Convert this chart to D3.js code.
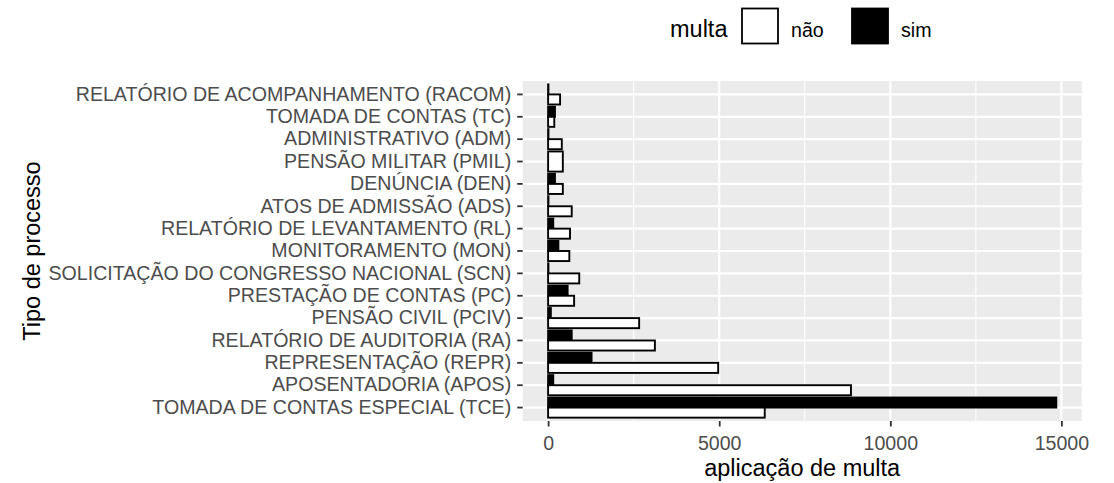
<!DOCTYPE html>
<html>
<head>
<meta charset="utf-8">
<script src="https://cdn.jsdelivr.net/npm/d3@7"></script>
<style>
  html, body { margin: 0; padding: 0; background: #fff; }
  svg { display: block; font-family: "Liberation Sans", Arial, sans-serif; }
</style>
</head>
<body>
<svg id="chart" width="1114" height="483"></svg>
<script>
// Categories, top to bottom
const categories = [
  "RELATÓRIO DE ACOMPANHAMENTO (RACOM)",
  "TOMADA DE CONTAS (TC)",
  "ADMINISTRATIVO (ADM)",
  "PENSÃO MILITAR (PMIL)",
  "DENÚNCIA (DEN)",
  "ATOS DE ADMISSÃO (ADS)",
  "RELATÓRIO DE LEVANTAMENTO (RL)",
  "MONITORAMENTO (MON)",
  "SOLICITAÇÃO DO CONGRESSO NACIONAL (SCN)",
  "PRESTAÇÃO DE CONTAS (PC)",
  "PENSÃO CIVIL (PCIV)",
  "RELATÓRIO DE AUDITORIA (RA)",
  "REPRESENTAÇÃO (REPR)",
  "APOSENTADORIA (APOS)",
  "TOMADA DE CONTAS ESPECIAL (TCE)"
];
// multa = "não"
const naoValues = [350, 180, 400, 430, 430, 690, 640, 620, 910, 760, 2660, 3120, 4970, 8850, 6330];
// multa = "sim" (null = no bar)
const simValues = [10, 200, 10, null, 200, 10, 150, 300, 10, 570, 80, 690, 1270, 150, 14850];
const seriesNames = ["não", "sim"];
const seriesFill = {"não": "#FFFFFF", "sim": "#000000"};
const xTicks = [0, 5000, 10000, 15000];
const xMinor = [2500, 7500, 12500];

const svg = d3.select("#chart");
const panel = {left: 522.7, right: 1081.7, top: 81, bottom: 421};

const maxVal = d3.max([...naoValues, ...simValues.filter(v => v != null)]);
const x = d3.scaleLinear()
  .domain([-0.05 * maxVal, 1.05 * maxVal])
  .range([panel.left, panel.right]);

const y = d3.scaleBand()
  .domain(categories)
  .range([panel.top, panel.bottom])
  .paddingInner(0)
  .paddingOuter(0.1);
const step = y.step();

// panel background
svg.append("rect")
  .attr("x", panel.left).attr("y", panel.top)
  .attr("width", panel.right - panel.left).attr("height", panel.bottom - panel.top)
  .attr("fill", "#EBEBEB");

// minor grid
svg.append("g").selectAll("line").data(xMinor).join("line")
  .attr("x1", d => x(d)).attr("x2", d => x(d))
  .attr("y1", panel.top).attr("y2", panel.bottom)
  .attr("stroke", "#fff").attr("stroke-width", 1.1);

// major grid
svg.append("g").selectAll("line").data(xTicks).join("line")
  .attr("x1", d => x(d)).attr("x2", d => x(d))
  .attr("y1", panel.top).attr("y2", panel.bottom)
  .attr("stroke", "#fff").attr("stroke-width", 2.2);
svg.append("g").selectAll("line").data(categories).join("line")
  .attr("x1", panel.left).attr("x2", panel.right)
  .attr("y1", d => y(d) + y.bandwidth() / 2).attr("y2", d => y(d) + y.bandwidth() / 2)
  .attr("stroke", "#fff").attr("stroke-width", 2.2);

// bars
const bars = [];
categories.forEach((c, i) => {
  const hasSim = simValues[i] != null;
  const center = y(c) + y.bandwidth() / 2;
  const groupW = 0.9 * step;
  if (hasSim) {
    const sub = d3.scaleBand().domain(["sim", "não"]).range([center - groupW / 2, center + groupW / 2]);
    bars.push({cat: c, s: "sim", v: simValues[i], y0: sub("sim"), h: sub.bandwidth()});
    bars.push({cat: c, s: "não", v: naoValues[i], y0: sub("não"), h: sub.bandwidth()});
  } else {
    bars.push({cat: c, s: "não", v: naoValues[i], y0: center - groupW / 2, h: groupW});
  }
});
svg.append("g").selectAll("rect").data(bars).join("rect")
  .attr("x", d => x(0))
  .attr("y", d => d.y0)
  .attr("width", d => x(d.v) - x(0))
  .attr("height", d => d.h)
  .attr("fill", d => seriesFill[d.s])
  .attr("stroke", "#000")
  .attr("stroke-width", 1.9);

// x axis
const xAxis = svg.append("g")
  .attr("transform", `translate(0,${panel.bottom})`)
  .call(d3.axisBottom(x).tickValues(xTicks).tickFormat(d3.format("d")).tickSize(5.5).tickPadding(10));
xAxis.select(".domain").remove();
xAxis.selectAll(".tick line").attr("stroke", "#333").attr("stroke-width", 1.8);
xAxis.selectAll(".tick text").attr("fill", "#4D4D4D").style("font-size", "19.6px");

// y axis
const yAxis = svg.append("g")
  .attr("transform", `translate(${panel.left},0)`)
  .call(d3.axisLeft(y).tickSize(5.5).tickPadding(6));
yAxis.select(".domain").remove();
yAxis.selectAll(".tick line").attr("stroke", "#333").attr("stroke-width", 1.8);
yAxis.selectAll(".tick text").attr("fill", "#4D4D4D").style("font-size", "19.6px");

// axis titles
svg.append("text")
  .attr("x", (panel.left + panel.right) / 2).attr("y", 476)
  .attr("text-anchor", "middle").attr("fill", "#000")
  .style("font-size", "23.5px")
  .text("aplicação de multa");
svg.append("text")
  .attr("transform", `translate(40,${(panel.top + panel.bottom) / 2}) rotate(-90)`)
  .attr("text-anchor", "middle").attr("fill", "#000")
  .style("font-size", "23.5px")
  .text("Tipo de processo");

// legend
const lg = svg.append("g");
lg.append("text").attr("x", 670).attr("y", 37).attr("fill", "#000")
  .style("font-size", "23.5px").text("multa");
const keyX = [742, 852];
seriesNames.forEach((s, i) => {
  lg.append("rect").attr("x", keyX[i]).attr("y", 8.5).attr("width", 36).attr("height", 35)
    .attr("fill", seriesFill[s]).attr("stroke", "#000").attr("stroke-width", 1.8);
  lg.append("text").attr("x", keyX[i] + 36 + 13).attr("y", 36.5).attr("fill", "#000")
    .style("font-size", "19.6px").text(s);
});
</script>
</body>
</html>
